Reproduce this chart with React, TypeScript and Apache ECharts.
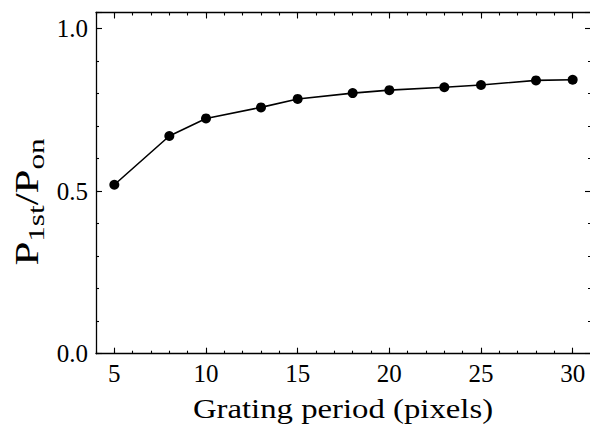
import React, { useEffect, useRef } from "react";
import * as echarts from "echarts";

const periods = [5, 8, 10, 13, 15, 18, 20, 23, 25, 28, 30];
const ratio = [0.52, 0.67, 0.724, 0.758, 0.784, 0.802, 0.811, 0.82, 0.827, 0.841, 0.843];
const xMajorTicks = [5, 10, 15, 20, 25, 30];
const xLabel = "Grating period (pixels)";

const FONT = "Liberation Serif";
const BLACK = "#000";

function makeX(position: string, major: boolean, showLabel: boolean) {
  return {
    type: "value",
    gridIndex: 0,
    position,
    min: 4,
    max: 31,
    ...(major ? {} : { interval: 1 }),
    axisLine: { show: major, onZero: false, lineStyle: { color: BLACK, width: 1.3 } },
    axisTick: {
      show: true,
      inside: true,
      length: major ? 6 : 3,
      lineStyle: { color: BLACK, width: 1.1 },
      ...(major ? { customValues: xMajorTicks } : {}),
    },
    axisLabel: {
      show: showLabel,
      ...(major ? { customValues: xMajorTicks } : {}),
      margin: 7,
      color: BLACK,
      fontFamily: FONT,
      fontWeight: "normal",
      fontSize: 25,
    },
    splitLine: { show: false },
  };
}

function makeY(position: string, major: boolean, showLabel: boolean) {
  return {
    type: "value",
    gridIndex: 0,
    position,
    min: 0,
    max: 1.05,
    interval: major ? 0.5 : 0.1,
    axisLine: { show: major, onZero: false, lineStyle: { color: BLACK, width: 1.3 } },
    axisTick: {
      show: true,
      inside: true,
      length: major ? 6 : 3,
      lineStyle: { color: BLACK, width: 1.1 },
    },
    axisLabel: {
      show: showLabel,
      margin: 8,
      color: BLACK,
      fontFamily: FONT,
      fontWeight: "normal",
      fontSize: 25,
      formatter: (v: number) => (Math.abs(v - 1.05) < 1e-6 ? "" : v.toFixed(1)),
    },
    splitLine: { show: false },
  };
}

export default function App() {
  const ref = useRef<HTMLDivElement>(null);
  useEffect(() => {
    if (!ref.current) return;
    const chart = echarts.init(ref.current, undefined, { renderer: "svg" });
    chart.setOption({
      animation: false,
      backgroundColor: "#fff",
      grid: { left: 96, top: 12.5, width: 495, height: 341.2, outerBoundsMode: "none" },
      xAxis: [
        makeX("bottom", true, true),
        makeX("bottom", false, false),
        makeX("top", true, false),
        makeX("top", false, false),
      ],
      yAxis: [
        makeY("left", true, true),
        makeY("left", false, false),
        makeY("right", true, false),
        makeY("right", false, false),
      ],
      series: [
        {
          type: "line",
          xAxisIndex: 0,
          yAxisIndex: 0,
          data: periods.map((p, i) => [p, ratio[i]]),
          symbol: "circle",
          symbolSize: 10,
          lineStyle: { color: BLACK, width: 1.6 },
          itemStyle: { color: BLACK },
        },
      ],
      graphic: [
        {
          type: "text",
          x: 343,
          y: 409,
          scaleX: 1.17,
          style: {
            text: xLabel,
            fill: BLACK,
            fontFamily: FONT,
            fontSize: 28,
            fontWeight: "normal",
            align: "center",
            verticalAlign: "middle",
          },
        },
        {
          type: "text",
          x: 27,
          y: 202,
          rotation: Math.PI / 2,
          scaleX: 1.3,
          style: {
            text: "{a|P}{s|1st}{a|/P}{s|on}",
            fill: BLACK,
            fontFamily: FONT,
            fontWeight: "normal",
            align: "center",
            verticalAlign: "middle",
            rich: {
              a: { fontFamily: FONT, fontSize: 33, fontWeight: "normal", fill: BLACK },
              s: {
                fontFamily: FONT,
                fontSize: 24,
                fontWeight: "normal",
                fill: BLACK,
                padding: [18, 0, 0, 0],
              },
            },
          },
        },
      ],
    });
    return () => chart.dispose();
  }, []);
  return (
    <div
      ref={ref}
      style={{ position: "fixed", left: 0, top: 0, width: 590, height: 428, background: "#fff" }}
    />
  );
}
